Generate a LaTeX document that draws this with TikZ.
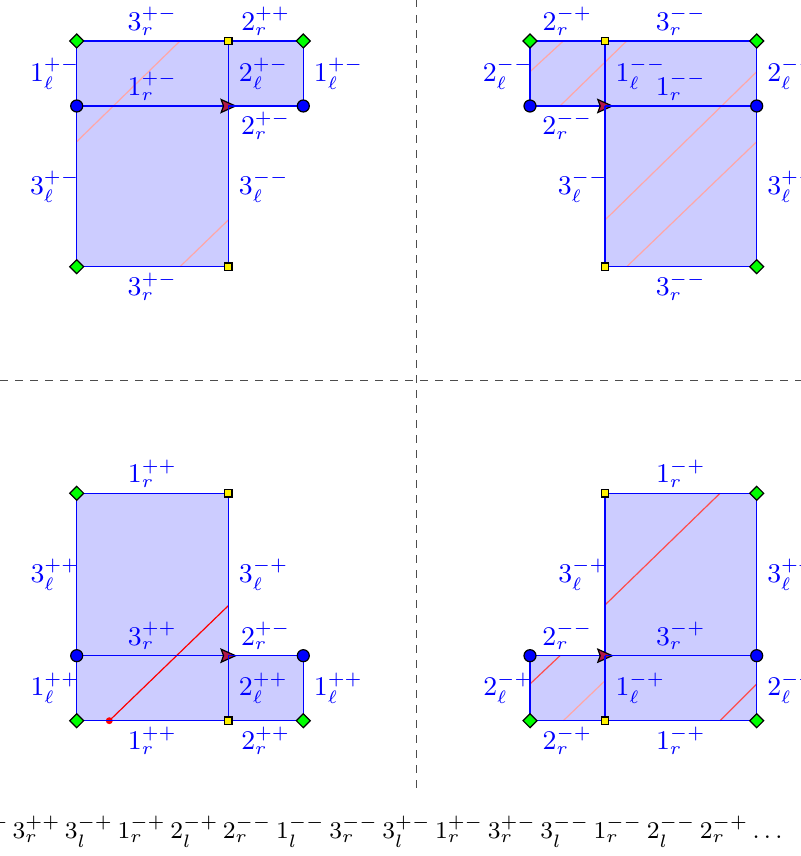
\documentclass[tikz,border=0pt]{standalone}
\usepackage{tikz}
\usetikzlibrary{arrows.meta,shapes.geometric}
\definecolor{arrowred}{RGB}{178,24,72}

\begin{document}
\begin{tikzpicture}[x=0.3333pt, y=0.3333pt,
  region/.style={fill=blue!20},
  edge/.style={draw=blue, thin},
  lab/.style={text=blue, font=\small},
  labu/.style={lab, above, yshift=-1.6pt},
  labd/.style={lab, below, yshift=1.6pt},
  labl/.style={lab, left, xshift=4.5pt},
  labr/.style={lab, right},
  midarrow/.style={-{Stealth[length=5.6pt, width=5pt, inset=0.9pt, color=black, fill=arrowred]}, shorten >=-2.9pt},
  diam/.style={diamond, draw=black, fill=green, minimum size=4.8pt, inner sep=0pt},
  sq/.style={rectangle, draw=black, fill=yellow, minimum size=2.5pt, inner sep=0pt},
  bdot/.style={circle, draw=black, fill=blue, minimum size=4pt, inner sep=0pt},
  pale/.style={draw=red!35, thin},
  cut/.style={draw=red!70, thin},
  sep/.style={draw=black!70, dash pattern=on 2.5pt off 2.5pt}
]
\useasboundingbox (0,0) rectangle (801,856);
\clip (0,0) rectangle (801,856);

% corners, top left
\coordinate (a1) at (76.7,815);
\coordinate (a2) at (228.3,815);
\coordinate (a3) at (303.3,815);
\coordinate (a4) at (76.7,750);
\coordinate (a5) at (228.3,750);
\coordinate (a6) at (303.3,750);
\coordinate (a7) at (76.7,589.3);
\coordinate (a8) at (228.3,589.3);
% corners, top right
\coordinate (b1) at (530,815);
\coordinate (b2) at (605,815);
\coordinate (b3) at (756.7,815);
\coordinate (b4) at (530,750);
\coordinate (b5) at (605,750);
\coordinate (b6) at (756.7,750);
\coordinate (b7) at (605,589.3);
\coordinate (b8) at (756.7,589.3);
% corners, bottom left
\coordinate (c1) at (76.7,362.7);
\coordinate (c2) at (228.3,362.7);
\coordinate (c3) at (76.7,200.3);
\coordinate (c4) at (228.3,200.3);
\coordinate (c5) at (303.3,200.3);
\coordinate (c6) at (76.7,135.3);
\coordinate (c7) at (228.3,135.3);
\coordinate (c8) at (303.3,135.3);
% corners, bottom right
\coordinate (d1) at (605,362.7);
\coordinate (d2) at (756.7,362.7);
\coordinate (d3) at (530,200.3);
\coordinate (d4) at (605,200.3);
\coordinate (d5) at (756.7,200.3);
\coordinate (d6) at (530,135.3);
\coordinate (d7) at (605,135.3);
\coordinate (d8) at (756.7,135.3);

% separators
\coordinate (vtop) at (416.7,856);
\coordinate (vbot) at (416.7,68);
\coordinate (hleft) at (0,475.3);
\coordinate (hright) at (801,475.3);
\draw[sep] (vtop) -- (vbot);
\draw[sep] (hleft) -- (hright);

% regions
\fill[region] (a1) rectangle (a8);
\fill[region] (a2) rectangle (a6);
\fill[region] (b1) rectangle (b5);
\fill[region] (b2) rectangle (b8);
\fill[region] (c1) rectangle (c7);
\fill[region] (c4) rectangle (c8);
\fill[region] (d1) rectangle (d8);
\fill[region] (d3) rectangle (d7);

% cuts
\draw[pale] (180,815) -- (76.7,714.3);
\draw[pale] (228.3,636) -- (180,589.3);
\draw[pale] (563.3,815) -- (530,784.3);
\draw[pale] (626.7,815) -- (560,750);
\draw[pale] (756.7,784.3) -- (605,636);
\draw[pale] (756.7,714.3) -- (626.7,589.3);
\node[circle, fill=red, minimum size=2.3pt, inner sep=0pt] (rdot) at (109.3,135.3) {};
\draw[red, thin] (rdot.center) -- (228.3,250.3);
\draw[cut] (720,362.7) -- (605,251);
\draw[cut] (560,200.3) -- (530,172);
\draw[pale] (605,175.3) -- (563.3,135.3);
\draw[cut] (756.7,172) -- (720,135.3);

% edges, top left
\draw[edge] (a1) -- node[labu] (la1) {$3_r^{+-}$} (a2);
\draw[edge] (a2) -- node[labu] (la2) {$2_r^{++}$} (a3);
\draw[edge] (a1) -- node[labl] (la3) {$1_\ell^{+-}$} (a4);
\draw[edge] (a2) -- node[labr] (la4) {$2_\ell^{+-}$} (a5);
\draw[edge] (a3) -- node[labr] (la5) {$1_\ell^{+-}$} (a6);
\draw[edge, midarrow] (a4) -- node[labu] (la6) {$1_r^{+-}$} (a5);
\draw[edge] (a5) -- node[labd] (la7) {$2_r^{+-}$} (a6);
\draw[edge] (a4) -- node[labl] (la8) {$3_\ell^{+-}$} (a7);
\draw[edge] (a5) -- node[labr] (la9) {$3_\ell^{--}$} (a8);
\draw[edge] (a7) -- node[labd] (la10) {$3_r^{+-}$} (a8);

% edges, top right
\draw[edge] (b1) -- node[labu] (lb1) {$2_r^{-+}$} (b2);
\draw[edge] (b2) -- node[labu] (lb2) {$3_r^{--}$} (b3);
\draw[edge] (b1) -- node[labl] (lb3) {$2_\ell^{--}$} (b4);
\draw[edge] (b2) -- node[labr] (lb4) {$1_\ell^{--}$} (b5);
\draw[edge] (b3) -- node[labr] (lb5) {$2_\ell^{--}$} (b6);
\draw[edge, midarrow] (b4) -- node[labd] (lb6) {$2_r^{--}$} (b5);
\draw[edge] (b5) -- node[labu] (lb7) {$1_r^{--}$} (b6);
\draw[edge] (b5) -- node[labl] (lb8) {$3_\ell^{--}$} (b7);
\draw[edge] (b6) -- node[labr] (lb9) {$3_\ell^{+-}$} (b8);
\draw[edge] (b7) -- node[labd] (lb10) {$3_r^{--}$} (b8);

% edges, bottom left
\draw[edge] (c1) -- node[labu] (lc1) {$1_r^{++}$} (c2);
\draw[edge] (c1) -- node[labl] (lc2) {$3_\ell^{++}$} (c3);
\draw[edge] (c2) -- node[labr] (lc3) {$3_\ell^{-+}$} (c4);
\draw[edge, midarrow] (c3) -- node[labu] (lc4) {$3_r^{++}$} (c4);
\draw[edge] (c4) -- node[labu] (lc5) {$2_r^{+-}$} (c5);
\draw[edge] (c3) -- node[labl] (lc6) {$1_\ell^{++}$} (c6);
\draw[edge] (c4) -- node[labr] (lc7) {$2_\ell^{++}$} (c7);
\draw[edge] (c5) -- node[labr] (lc8) {$1_\ell^{++}$} (c8);
\draw[edge] (c6) -- node[labd] (lc9) {$1_r^{++}$} (c7);
\draw[edge] (c7) -- node[labd] (lc10) {$2_r^{++}$} (c8);

% edges, bottom right
\draw[edge] (d1) -- node[labu] (ld1) {$1_r^{-+}$} (d2);
\draw[edge] (d1) -- node[labl] (ld2) {$3_\ell^{-+}$} (d4);
\draw[edge] (d2) -- node[labr] (ld3) {$3_\ell^{++}$} (d5);
\draw[edge, midarrow] (d3) -- node[labu] (ld4) {$2_r^{--}$} (d4);
\draw[edge] (d4) -- node[labu] (ld5) {$3_r^{-+}$} (d5);
\draw[edge] (d3) -- node[labl] (ld6) {$2_\ell^{-+}$} (d6);
\draw[edge] (d4) -- node[labr] (ld7) {$1_\ell^{-+}$} (d7);
\draw[edge] (d5) -- node[labr] (ld8) {$2_\ell^{-+}$} (d8);
\draw[edge] (d6) -- node[labd] (ld9) {$2_r^{-+}$} (d7);
\draw[edge] (d7) -- node[labd] (ld10) {$1_r^{-+}$} (d8);

% vertex marks
\node[diam] (ma1) at (a1) {}; \node[sq] (ma2) at (a2) {}; \node[diam] (ma3) at (a3) {};
\node[bdot] (ma4) at (a4) {}; \node[bdot] (ma6) at (a6) {};
\node[diam] (ma7) at (a7) {}; \node[sq] (ma8) at (a8) {};
\node[diam] (mb1) at (b1) {}; \node[sq] (mb2) at (b2) {}; \node[diam] (mb3) at (b3) {};
\node[bdot] (mb4) at (b4) {}; \node[bdot] (mb6) at (b6) {};
\node[sq] (mb7) at (b7) {}; \node[diam] (mb8) at (b8) {};
\node[diam] (mc1) at (c1) {}; \node[sq] (mc2) at (c2) {};
\node[bdot] (mc3) at (c3) {}; \node[bdot] (mc5) at (c5) {};
\node[diam] (mc6) at (c6) {}; \node[sq] (mc7) at (c7) {}; \node[diam] (mc8) at (c8) {};
\node[sq] (md1) at (d1) {}; \node[diam] (md2) at (d2) {};
\node[bdot] (md3) at (d3) {}; \node[bdot] (md5) at (d5) {};
\node[diam] (md6) at (d6) {}; \node[sq] (md7) at (d7) {}; \node[diam] (md8) at (d8) {};

% word
\node[anchor=base east, inner sep=0pt, font=\fontsize{8.3}{10}\selectfont] (word) at (783,18) {$1_l^{++}\,3_r^{++}\,3_l^{-+}\,1_r^{-+}\,2_l^{-+}\,2_r^{--}\,1_l^{--}\,3_r^{--}\,3_l^{+-}\,1_r^{+-}\,3_r^{+-}\,3_l^{--}\,1_r^{--}\,2_l^{--}\,2_r^{-+}\ldots$};

\end{tikzpicture}
\end{document}
